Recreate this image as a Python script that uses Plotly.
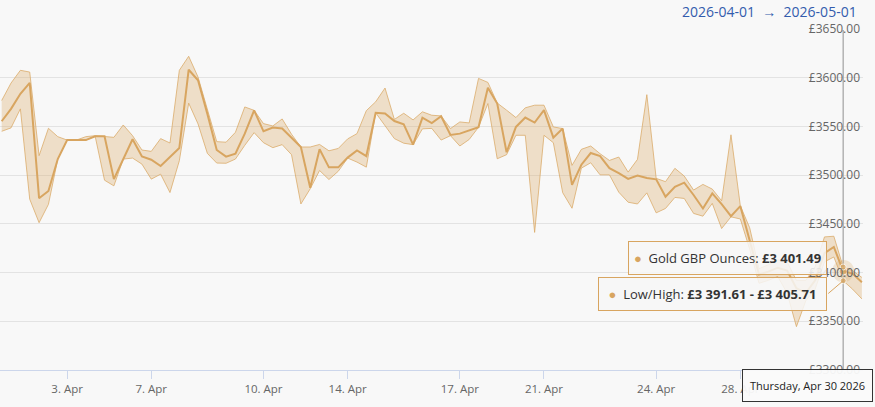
import plotly.graph_objects as go

### gold price in GBP per ounce, 6-hourly points on an ordinal axis (weekends skipped)
price = [3555.3, 3568.0, 3583.5, 3594.8, 3476.3, 3483.8, 3516.5, 3536.0, 3536.0, 3536.0,
         3539.8, 3539.9, 3495.9, 3516.5, 3536.8, 3519.2, 3515.8, 3509.3, 3518.9, 3527.8,
         3608.2, 3597.3, 3562.9, 3525.8, 3519.0, 3522.0, 3542.6, 3566.5, 3545.0, 3548.8,
         3547.8, 3537.8, 3528.9, 3487.0, 3526.5, 3508.0, 3508.0, 3518.0, 3525.4, 3519.6,
         3564.0, 3563.2, 3555.5, 3552.2, 3531.4, 3559.0, 3553.5, 3560.5, 3541.2, 3542.6,
         3546.0, 3549.2, 3589.7, 3573.5, 3523.5, 3549.5, 3559.1, 3554.0, 3566.7, 3538.5,
         3547.8, 3490.0, 3510.7, 3522.7, 3519.6, 3507.2, 3502.0, 3496.2, 3499.7, 3497.0,
         3495.7, 3477.8, 3488.1, 3492.3, 3479.6, 3465.8, 3481.3, 3470.3, 3457.9, 3468.2,
         3433.0, 3398.0, 3401.0, 3405.0, 3402.0, 3384.0, 3379.0, 3392.0, 3420.0, 3426.3,
         3401.49, 3399.0, 3390.0]

high = [3576.6, 3594.5, 3607.6, 3605.8, 3520.0, 3548.1, 3539.5, 3536.0, 3536.0, 3539.5,
        3540.5, 3539.9, 3538.8, 3551.5, 3540.5, 3525.8, 3524.4, 3537.5, 3533.0, 3607.6,
        3622.0, 3600.7, 3566.3, 3534.4, 3533.8, 3544.0, 3570.0, 3566.5, 3552.9, 3550.5,
        3557.7, 3542.0, 3528.9, 3528.9, 3531.5, 3525.0, 3527.4, 3537.2, 3542.6, 3566.2,
        3575.3, 3589.4, 3557.2, 3563.5, 3556.7, 3565.0, 3561.5, 3560.8, 3547.8, 3554.6,
        3553.6, 3599.3, 3595.2, 3574.0, 3566.7, 3559.1, 3569.1, 3571.8, 3571.8, 3549.5,
        3547.8, 3510.0, 3526.5, 3529.9, 3522.0, 3515.1, 3518.6, 3503.1, 3516.2, 3582.6,
        3496.7, 3493.3, 3507.0, 3499.1, 3484.7, 3490.5, 3485.7, 3473.7, 3541.4, 3468.5,
        3446.0, 3404.0, 3408.0, 3413.0, 3411.0, 3392.0, 3392.0, 3406.0, 3436.6, 3437.3,
        3405.71, 3402.0, 3395.0]

low = [3545.0, 3548.5, 3568.0, 3475.3, 3451.2, 3470.0, 3516.5, 3536.0, 3536.0, 3536.0,
       3539.8, 3494.8, 3489.0, 3516.5, 3517.5, 3511.3, 3495.9, 3501.0, 3482.1, 3514.8,
       3573.9, 3552.6, 3522.3, 3512.4, 3512.2, 3516.5, 3530.6, 3543.6, 3533.3, 3528.2,
       3531.3, 3521.0, 3470.4, 3486.0, 3504.8, 3495.5, 3504.0, 3517.5, 3513.4, 3508.2,
       3564.0, 3550.4, 3537.5, 3532.8, 3531.3, 3547.5, 3548.0, 3536.0, 3540.5, 3529.9,
       3536.6, 3549.2, 3573.5, 3516.8, 3521.0, 3540.9, 3540.9, 3441.2, 3540.9, 3533.3,
       3482.0, 3466.0, 3507.2, 3512.7, 3500.3, 3500.3, 3482.5, 3472.2, 3470.4, 3481.8,
       3461.3, 3465.8, 3477.1, 3476.1, 3460.7, 3457.9, 3471.0, 3445.2, 3457.2, 3455.0,
       3424.0, 3389.0, 3392.0, 3396.0, 3379.0, 3344.5, 3371.0, 3383.0, 3411.0, 3416.0,
       3391.61, 3383.0, 3373.0]

idx = list(range(len(price)))

### first point of each labelled day on the ordinal axis
tick_idx = [7, 16, 28, 37, 49, 58, 70, 79]
tick_text = ['3. Apr', '7. Apr', '10. Apr', '14. Apr', '17. Apr', '21. Apr', '24. Apr', '28. Apr']

y_min, y_max = 3300, 3650
hover_i = 90   # point under the crosshair
hover_date = 'Thursday, Apr 30 2026'
range_from, range_to = '2026-04-01', '2026-05-01'

gold = '#d8a560'
band = 'rgba(217,168,100,0.32)'
edge = 'rgba(217,168,100,0.75)'
font = 'Open Sans'


def gbp(v):
    return '£' + f'{v:,.2f}'.replace(',', ' ')


fig = go.Figure()

### low/high range band
fig.add_trace(go.Scatter(x=idx, y=high, mode='lines', line=dict(color=edge, width=1),
                         hoverinfo='skip', showlegend=False))
fig.add_trace(go.Scatter(x=idx, y=low, mode='lines', line=dict(color=edge, width=1),
                         fill='tonexty', fillcolor=band, hoverinfo='skip', showlegend=False))

### main price line
fig.add_trace(go.Scatter(x=idx, y=price, mode='lines', line=dict(color=gold, width=2),
                         showlegend=False))

### crosshair
fig.add_trace(go.Scatter(x=[idx[hover_i], idx[hover_i]], y=[y_min, y_max - 1], mode='lines',
                         line=dict(color='#a8a8a8', width=1.3), hoverinfo='skip', showlegend=False))

### hover state markers
fig.add_trace(go.Scatter(x=[idx[hover_i]], y=[price[hover_i]], mode='markers',
                         marker=dict(size=22, color='rgba(217,168,100,0.25)'),
                         showlegend=False, hoverinfo='skip'))
fig.add_trace(go.Scatter(x=[idx[hover_i]] * 3, y=[price[hover_i], low[hover_i], high[hover_i]],
                         mode='markers',
                         marker=dict(size=[8, 6, 6], color=gold, line=dict(color='white', width=1)),
                         showlegend=False, hoverinfo='skip'))

### connector of the range tooltip
fig.add_shape(type='line', xref='x', yref='y', x0=88.4, y0=3378.5,
              x1=idx[hover_i], y1=low[hover_i], line=dict(color=gold, width=1))

### tooltips
dot = "<span style='color:%s'>●</span>  " % gold
fig.add_annotation(xref='paper', yref='paper', x=0.843, y=0.327, xanchor='center', yanchor='middle',
                   text=dot + 'Gold GBP Ounces: <b>%s</b>' % gbp(price[hover_i]),
                   showarrow=False, width=195, height=30, borderpad=1, borderwidth=1,
                   bordercolor=gold, bgcolor='rgba(247,247,247,0.85)',
                   font=dict(family=font, size=13, color='#333333'))
fig.add_annotation(xref='paper', yref='paper', x=0.8256, y=0.223, xanchor='center', yanchor='middle',
                   text=dot + 'Low/High: <b>%s - %s</b>' % (gbp(low[hover_i]), gbp(high[hover_i])),
                   showarrow=False, width=225, height=30, borderpad=1, borderwidth=1,
                   bordercolor=gold, bgcolor='rgba(247,247,247,0.85)',
                   font=dict(family=font, size=13, color='#333333'))
fig.add_annotation(xref='paper', yref='paper', x=0.9357, y=-0.045, xanchor='center', yanchor='middle',
                   text=hover_date, showarrow=False, width=127, height=29, borderpad=1,
                   borderwidth=1, bordercolor='#333333', bgcolor='rgba(250,250,250,0.95)',
                   font=dict(family=font, size=11, color='#222222'))

### range selector inputs
fig.add_annotation(xref='paper', yref='paper', x=0.995, y=1.085, xanchor='right', yanchor='top',
                   text='%s  \u2192  %s' % (range_from, range_to), showarrow=False,
                   font=dict(family=font, size=14, color='#335cad'))

fig.update_layout(
    width=875, height=407,
    margin=dict(t=29, l=0, r=12, b=37),
    paper_bgcolor='#f8f8f8', plot_bgcolor='#f8f8f8',
    font=dict(family=font, size=11, color='#666666'),
    showlegend=False,
    xaxis=dict(range=[-0.18, 92.12], tickvals=tick_idx, ticktext=tick_text,
               showgrid=False, zeroline=False, showline=True, linecolor='#ccd6eb',
               ticks='outside', ticklen=8, tickcolor='#ccd6eb',
               tickfont=dict(family=font, size=11.5, color='#666666')),
    yaxis=dict(range=[y_min, y_max], dtick=50, side='right', ticklabelposition='inside',
               ticklabeloverflow='allow', tickprefix='£', tickformat='.2f',
               showgrid=True, gridcolor='#e3e3e3', zeroline=False, showline=False,
               tickfont=dict(family=font, size=12, color='#666666')),
)

### the page body has a default margin; drop it so the figure fills the window
fig.write_html('out.html', config=dict(displayModeBar=False),
               post_script="document.body.style.margin='0px';")
